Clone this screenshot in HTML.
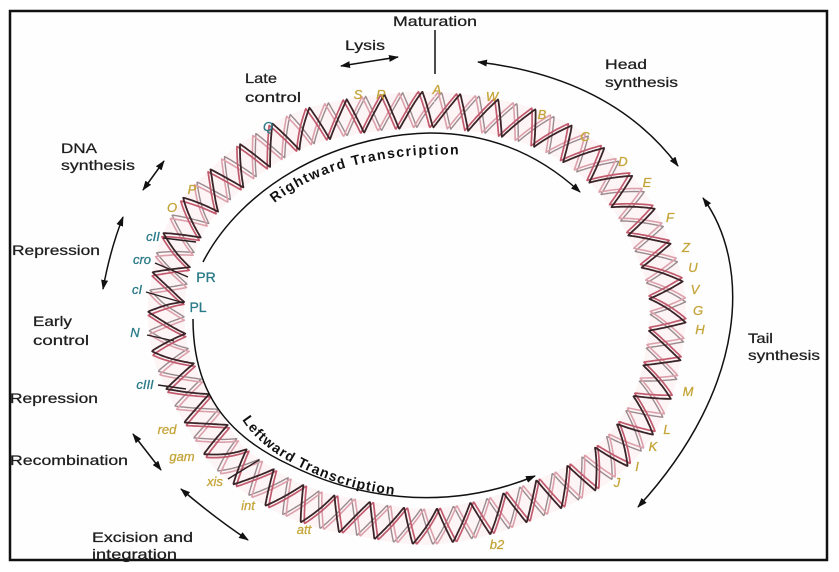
<!DOCTYPE html>
<html><head><meta charset="utf-8">
<style>
html,body{margin:0;padding:0;background:#fff;}
svg{display:block;}
text{font-family:"Liberation Sans",Arial,sans-serif;}
.lb{font-size:14px;fill:#1e1e1e;stroke:#1e1e1e;stroke-width:0.25;}
.gy{font-size:13px;font-style:italic;fill:#c5a53a;text-anchor:middle;stroke:#c5a53a;stroke-width:0.3;}
.gt{font-size:13px;font-style:italic;fill:#2b7a88;text-anchor:middle;stroke:#2b7a88;stroke-width:0.3;}
.gp{font-size:14px;fill:#2b7a88;text-anchor:middle;stroke:#2b7a88;stroke-width:0.3;}
.tr{font-size:14px;font-weight:bold;fill:#111;}
</style></head><body>
<svg id="sv" width="839" height="572" viewBox="0 0 839 572" xmlns="http://www.w3.org/2000/svg">
<defs>
<marker id="ah" viewBox="0 0 10 7" refX="9" refY="3.5" markerWidth="10" markerHeight="7" markerUnits="userSpaceOnUse" orient="auto-start-reverse"><path d="M0,0 L10,3.5 L0,7 z" fill="#111"/></marker>
</defs>
<rect x="0" y="0" width="839" height="572" fill="#fff"/>
<rect x="10" y="11" width="817" height="549" fill="#fefefe" stroke="#111" stroke-width="2.5"/>

<ellipse id="fallback" cx="418" cy="318" rx="250" ry="207" fill="none" stroke="#e9c9cf" stroke-width="38"/>
<g id="helix"></g>

<!-- leader lines -->
<g stroke="#2a1e20" stroke-width="1.4" fill="none">
<path d="M163,238 L196,242"/>
<path d="M155,263 L188,277"/>
<path d="M146,292 L184,303"/>
<path d="M147,335 L174,341"/>
<path d="M158,385 L186,389"/>
<path d="M228,479 L259,460"/>
</g>

<!-- connectors -->
<g stroke="#111" stroke-width="1.5" fill="none">
<path d="M435,30 L435,74"/>
<path d="M341,66 L398,57" marker-start="url(#ah)" marker-end="url(#ah)"/>
<path d="M143,190 L164,161" marker-start="url(#ah)" marker-end="url(#ah)"/>
<path d="M123,217 Q110,250 103,289" marker-start="url(#ah)" marker-end="url(#ah)"/>
<path d="M133,434 L161,470" marker-start="url(#ah)" marker-end="url(#ah)"/>
<path d="M181,489 Q215,518 248,540" marker-start="url(#ah)" marker-end="url(#ah)"/>
<path d="M478,62 Q612,78 678,166" marker-start="url(#ah)" marker-end="url(#ah)"/>
<path d="M703,198 C750,262 750,385 638,507" marker-start="url(#ah)" marker-end="url(#ah)"/>
<path d="M203,262 C240,190 330,135 430,133 C490,133 540,155 580,192" marker-end="url(#ah)"/>
<path d="M193,319 C193,390 225,435 290,465 C350,495 440,515 535,476" marker-end="url(#ah)"/>
</g>

<path id="rp" d="M270,207 C300,180 350,160 420,155 L480,154" fill="none"/>
<path id="lp" d="M241,418 C258,446 290,465 330,480 C365,493 410,499 470,499" fill="none"/>
<text class="tr" letter-spacing="1.5"><textPath href="#rp" startOffset="6">Rightward Transcription</textPath></text>
<text class="tr" letter-spacing="1.1"><textPath href="#lp" startOffset="2">Leftward Transcription</textPath></text>

<!-- labels -->
<g class="lb">
<text x="393" y="26" textLength="84" lengthAdjust="spacingAndGlyphs">Maturation</text>
<text x="345" y="50" textLength="40" lengthAdjust="spacingAndGlyphs">Lysis</text>
<text x="245" y="83" textLength="32" lengthAdjust="spacingAndGlyphs">Late</text>
<text x="245" y="102" textLength="56" lengthAdjust="spacingAndGlyphs">control</text>
<text x="61" y="153" textLength="36" lengthAdjust="spacingAndGlyphs">DNA</text>
<text x="61" y="170" textLength="74" lengthAdjust="spacingAndGlyphs">synthesis</text>
<text x="12" y="255" textLength="88" lengthAdjust="spacingAndGlyphs">Repression</text>
<text x="33" y="326" textLength="39" lengthAdjust="spacingAndGlyphs">Early</text>
<text x="33" y="345" textLength="56" lengthAdjust="spacingAndGlyphs">control</text>
<text x="10" y="403" textLength="88" lengthAdjust="spacingAndGlyphs">Repression</text>
<text x="10" y="465" textLength="118" lengthAdjust="spacingAndGlyphs">Recombination</text>
<text x="92" y="542" textLength="101" lengthAdjust="spacingAndGlyphs">Excision and</text>
<text x="92" y="559" textLength="85" lengthAdjust="spacingAndGlyphs">integration</text>
<text x="605" y="69" textLength="42" lengthAdjust="spacingAndGlyphs">Head</text>
<text x="605" y="87" textLength="73" lengthAdjust="spacingAndGlyphs">synthesis</text>
<text x="748" y="343" textLength="25" lengthAdjust="spacingAndGlyphs">Tail</text>
<text x="748" y="360" textLength="72" lengthAdjust="spacingAndGlyphs">synthesis</text>
</g>

<g class="gy">
<text x="358" y="99">S</text>
<text x="381" y="99">R</text>
<text x="437" y="94">A</text>
<text x="492" y="101">W</text>
<text x="542" y="119">B</text>
<text x="585" y="141">C</text>
<text x="623" y="166">D</text>
<text x="647" y="187">E</text>
<text x="670" y="222">F</text>
<text x="686" y="252">Z</text>
<text x="693" y="272">U</text>
<text x="695" y="294">V</text>
<text x="698" y="315">G</text>
<text x="700" y="334">H</text>
<text x="688" y="396">M</text>
<text x="667" y="434">L</text>
<text x="653" y="451">K</text>
<text x="637" y="471">I</text>
<text x="617" y="487">J</text>
<text x="497" y="549">b2</text>
<text x="304" y="534">att</text>
<text x="248" y="510">int</text>
<text x="215" y="486">xis</text>
<text x="182" y="461">gam</text>
<text x="167" y="434">red</text>
<text x="192" y="194">P</text>
<text x="172" y="212">O</text>
</g>
<g class="gt">
<text x="268" y="131">Q</text>
<text x="153" y="241">cII</text>
<text x="142" y="264">cro</text>
<text x="137" y="294">cI</text>
<text x="135" y="337">N</text>
<text x="145" y="389">cIII</text>
</g>
<g class="gp">
<text x="206" y="282">PR</text>
<text x="198" y="312">PL</text>
</g>
</svg>
<script>
(function(){
var P=[[434,110],[490,116],[540,130],[580,152],[612,180],[636,212],[653,248],[664,280],[668,312],[664,350],[655,390],[636,428],[610,458],[578,480],[540,498],[490,516],[440,526],[400,525],[360,518],[320,510],[285,496],[255,478],[227,455],[205,422],[185,387],[170,350],[166,312],[168,290],[176,250],[195,212],[220,185],[253,157],[300,130],[350,117],[400,111]];
var n=P.length,D=[],i,j;
function cr(a,b,c,d,t){var t2=t*t,t3=t2*t;return [0.5*(2*b[0]+(-a[0]+c[0])*t+(2*a[0]-5*b[0]+4*c[0]-d[0])*t2+(-a[0]+3*b[0]-3*c[0]+d[0])*t3),0.5*(2*b[1]+(-a[1]+c[1])*t+(2*a[1]-5*b[1]+4*c[1]-d[1])*t2+(-a[1]+3*b[1]-3*c[1]+d[1])*t3)];}
for(i=0;i<n;i++){for(j=0;j<24;j++){D.push(cr(P[(i-1+n)%n],P[i],P[(i+1)%n],P[(i+2)%n],j/24));}}
D.push(D[0]);
var C=[0];for(i=1;i<D.length;i++){C.push(C[i-1]+Math.hypot(D[i][0]-D[i-1][0],D[i][1]-D[i-1][1]));}
var L=C[C.length-1];
function at(s){s=((s%L)+L)%L;var lo=0,hi=C.length-1;while(hi-lo>1){var m=(lo+hi)>>1;if(C[m]<=s)lo=m;else hi=m;}var f=(s-C[lo])/((C[hi]-C[lo])||1);return [D[lo][0]+(D[hi][0]-D[lo][0])*f,D[lo][1]+(D[hi][1]-D[lo][1])*f];}
var N=40,pitch=L/N,W=18,A=0.68,step=0.7;
var S=[];for(var s=0;s<=L+0.01;s+=step){var a=at(s-2),b=at(s+2),tx=b[0]-a[0],ty=b[1]-a[1],l=Math.hypot(tx,ty);tx/=l;ty/=l;S.push([s,at(s),tx,ty]);}
function prof(u){u=u-Math.floor(u);if(u<A){return -1+2*u/A;}return 1-2*(u-A)/(1-A);}
function strand(ph,shift,w){var d='';for(var q=0;q<S.length;q++){var e=S[q],u=(e[0]+shift)/pitch+ph,v=prof(u)*w,tx=e[2],ty=e[3];var x=e[1][0]+ty*v,y=e[1][1]-tx*v;d+=(q?'L':'M')+x.toFixed(1)+','+y.toFixed(1);}return d;}
var g=document.getElementById('helix'),ns='http://www.w3.org/2000/svg';
function add(d,col,wd,op){var p=document.createElementNS(ns,'path');p.setAttribute('d',d);p.setAttribute('fill','none');p.setAttribute('stroke',col);p.setAttribute('stroke-width',wd);p.setAttribute('stroke-linejoin','round');if(op)p.setAttribute('opacity',op);g.appendChild(p);}
var fb=document.getElementById('fallback');if(fb)fb.parentNode.removeChild(fb);
var cd='';for(i=0;i<S.length;i++){cd+=(i?'L':'M')+S[i][1][0].toFixed(1)+','+S[i][1][1].toFixed(1);}
add(cd,'#fcf4f5',36);
add(strand(0.5,0,W),'#9a8a8e',1.4);
add(strand(0.5,3.5,W),'#dca0ab',1.6);
add(strand(0,3.5,W),'#c25a6e',1.7);
add(strand(0,0,W),'#3a2428',1.8);
})();
</script>
</body></html>
